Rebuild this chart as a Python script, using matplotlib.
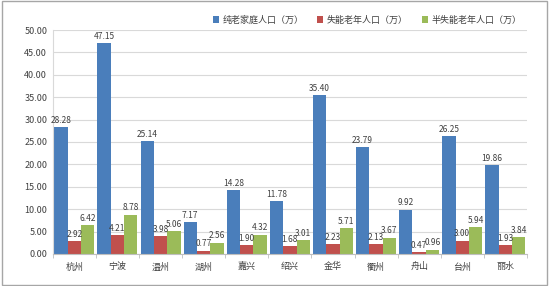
import matplotlib
matplotlib.use("Agg")
import matplotlib.pyplot as plt
import numpy as np

plt.rcParams["font.family"] = ["Noto Sans CJK SC", "DejaVu Sans"]

# ── Data ──────────────────────────────────────────────────────────────────────

cities = ["杭州", "宁波", "温州", "湖州", "嘉兴", "绍兴", "金华", "衢州", "舟山", "台州", "丽水"]
pure_elderly = [28.28, 47.15, 25.14, 7.17, 14.28, 11.78, 35.40, 23.79, 9.92, 26.25, 19.86]
disabled = [2.92, 4.21, 3.98, 0.77, 1.90, 1.68, 2.23, 2.13, 0.47, 3.00, 1.93]
semi_disabled = [6.42, 8.78, 5.06, 2.56, 4.32, 3.01, 5.71, 3.67, 0.96, 5.94, 3.84]

series_names = ["纯老家庭人口（万）", "失能老年人口（万）", "半失能老年人口（万）"]
colors = ["#4A7EBB", "#C0504D", "#9BBB59"]

# ── Plot ──────────────────────────────────────────────────────────────────────

fig = plt.figure(figsize=(5.5, 2.86), dpi=100)
ax = fig.add_axes([0.096, 0.112, 0.862, 0.783])

x = np.arange(len(cities))
w = 0.31
for i, (vals, name, col) in enumerate(zip([pure_elderly, disabled, semi_disabled], series_names, colors)):
    bars = ax.bar(x + (i - 1) * w, vals, width=w, color=col, label=name, zorder=2)
    for b, v in zip(bars, vals):
        ax.text(b.get_x() + b.get_width() / 2, v + 0.5, f"{v:.2f}",
                ha="center", va="bottom", fontsize=6, color="#404040", zorder=3)

ax.set_xlim(-0.5, len(cities) - 0.5)
ax.set_ylim(0, 50)
ax.set_yticks(np.arange(0, 51, 5))
ax.set_yticklabels([f"{v:.2f}" for v in np.arange(0, 51, 5)], fontsize=6.5, color="#404040")
ax.set_xticks(x)
ax.set_xticklabels(cities, fontsize=6.5, color="#404040")
ax.set_xticks(np.arange(-0.5, len(cities), 1), minor=True)
ax.tick_params(axis="x", which="major", length=0, pad=6)
ax.tick_params(axis="x", which="minor", length=3, color="#BFBFBF")
ax.tick_params(axis="y", length=0, pad=4)

ax.grid(axis="y", color="#D9D9D9", linewidth=0.8, zorder=0)
for s in ["top", "right"]:
    ax.spines[s].set_visible(False)
ax.spines["left"].set_color("#D9D9D9")
ax.spines["bottom"].set_color("#BFBFBF")

ax.legend(loc="lower right", bbox_to_anchor=(1.0, 1.0), ncol=3, frameon=False,
          fontsize=6.5, handlelength=0.7, handleheight=0.7, handletextpad=0.4,
          columnspacing=1.5, borderaxespad=0.2, labelcolor="#404040")

fig.patches.append(plt.Rectangle((0.003, 0.005), 0.992, 0.99, transform=fig.transFigure,
                                 fill=False, edgecolor="#A6A6A6", linewidth=1.0))

fig.savefig("out.png", dpi=100)
plt.close(fig)
